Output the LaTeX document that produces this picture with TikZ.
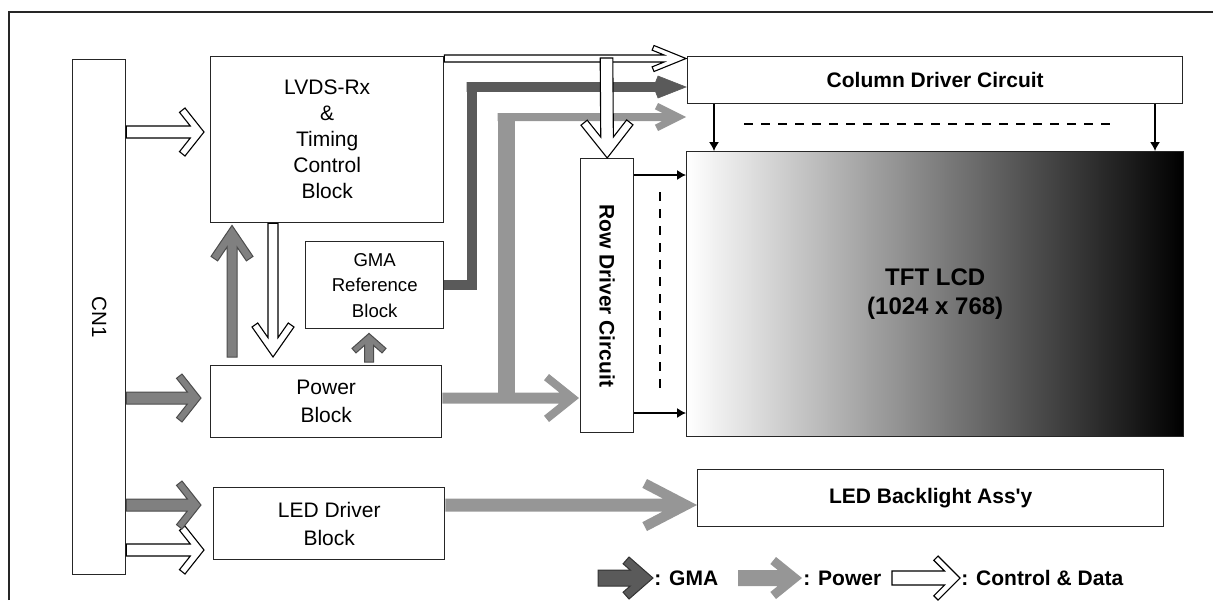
\documentclass[tikz,border=0pt]{standalone}
\usepackage{fontspec}
\setmainfont{Liberation Sans}
\usetikzlibrary{arrows.meta, calc, decorations.markings}
\definecolor{gmagray}{HTML}{5A5A5A}
\definecolor{midgray}{HTML}{808080}
\definecolor{pwrgray}{HTML}{969696}
% block arrow: style, shaft half width, head half width, head length, arm width, from, to
\newcommand{\fatarrow}[7]{%
  \path[decorate, decoration={markings, mark=at position 0 with {%
    \pgfmathsetmacro\faL{\pgfdecoratedpathlength*2}%
    \pgfmathsetmacro\faN{sqrt(#4*#4+#3*#3)}%
    \pgfmathsetmacro\faM{#5*\faN/#3+#4*#2/#3}%
    \pgfmathsetmacro\faX{#4+#5*#3/\faN}%
    \pgfmathsetmacro\faY{#3-#5*#4/\faN}%
    \filldraw[#1] (0,#2) -- (\faL-\faM,#2) -- (\faL-\faX,\faY) -- (\faL-#4,#3)
      -- (\faL,0) -- (\faL-#4,-#3) -- (\faL-\faX,-\faY) -- (\faL-\faM,-#2)
      -- (0,-#2) -- cycle;}}] #6 -- #7;}

\begin{document}
\begin{tikzpicture}[x=0.5pt, y=-0.5pt,
  blk/.style={draw=black!85, line width=0.7pt, inner sep=0pt, align=center,
              anchor=north west, font=\fontsize{10.5}{13}\selectfont},
  bblk/.style={blk, font=\fontsize{10.5}{13}\selectfont\bfseries},
  ctlarr/.style={fill=white, draw=black, line width=0.55pt, line join=miter},
  midarr/.style={fill=midgray, draw=black!70, line width=0.5pt, line join=miter},
  gmaarr/.style={fill=gmagray, draw=gmagray, line width=0.3pt},
  lgmaarr/.style={fill=gmagray, draw=black!80, line width=0.5pt, line join=miter},
  pwrarr/.style={fill=pwrgray, draw=none},
  thinarr/.style={draw=black, line width=0.6pt, -{Latex[length=4.5pt, width=5pt]}},
  dashline/.style={draw=black, line width=0.6pt, dash pattern=on 4.5pt off 4pt},
  lgtext/.style={anchor=west, inner sep=0.5pt, font=\fontsize{10.5}{13}\selectfont\bfseries}]
  \useasboundingbox (0,0) rectangle (1213,600);
  % outer frame
  \draw[black!85, line width=1pt] (9,600) -- (9,12) -- (1213,12);

  % blocks
  \node[blk, minimum width=26.5pt, minimum height=257.5pt] (cn) at (72,59) {};
  \node[rotate=-90, font=\fontsize{10.3}{12}\selectfont] (cnlab) at (cn.center) {CN1};
  \node[blk, minimum width=116.5pt, minimum height=83pt] (lvds) at (210,56)
    {LVDS-Rx\\\&\\Timing\\Control\\Block};
  \node[blk, minimum width=69pt, minimum height=43.5pt,
        font=\fontsize{9.3}{12.7}\selectfont] (gma) at (305,241) {GMA\\Reference\\Block};
  \node[blk, minimum width=115.5pt, minimum height=36pt,
        font=\fontsize{10.5}{14}\selectfont] (pwr) at (210,365) {Power\\Block};
  \node[blk, minimum width=115.5pt, minimum height=36pt,
        font=\fontsize{10.5}{14}\selectfont] (led) at (213,487) {LED Driver\\Block};
  \node[blk, minimum width=26.5pt, minimum height=137pt] (row) at (580,158) {};
  \node[rotate=-90, font=\fontsize{10.5}{13}\selectfont\bfseries] (rowlab) at (row.center)
    {Row Driver Circuit};
  \node[bblk, minimum width=247.5pt, minimum height=23.5pt] (col) at (687,56)
    {Column Driver Circuit};
  \node[bblk, minimum width=248.5pt, minimum height=142.5pt,
        left color=white, middle color=black!35, right color=black,
        font=\fontsize{12}{14.5}\selectfont\bfseries] (tft) at (686,151)
    {TFT LCD\\(1024 x 768)};
  \node[bblk, minimum width=233pt, minimum height=28.5pt] (blu) at (697,469)
    {LED Backlight Ass\textquotesingle y};

  % rows and columns of the connectors
  \coordinate (ctlrow) at (0,58.5);
  \coordinate (in1) at (0,132);
  \coordinate (pwrrow) at (0,398);
  \coordinate (ledrow) at (0,505);
  \coordinate (in4) at (0,550);
  \coordinate (gmaup) at (472,87);
  \coordinate (pwrup) at (506,117);
  \coordinate (rowtop) at (606.5,58);
  \coordinate (upx) at (232,0);
  \coordinate (dnx) at (273,0);
  \coordinate (gupx) at (369,0);
  \coordinate (rA) at (0,175);
  \coordinate (rB) at (0,413);
  \coordinate (cA) at (714,0);
  \coordinate (cB) at (1155,0);

  % CN1 outputs
  \fatarrow{ctlarr}{6}{24}{19}{7}{(cn.east |- in1)}{($(lvds.west |- in1)+(-6,0)$)}
  \fatarrow{midarr}{6}{24}{19}{7}{(cn.east |- pwrrow)}{($(pwr.west |- pwrrow)+(-9,0)$)}
  \fatarrow{ctlarr}{6}{24}{19}{7}{(cn.east |- in4)}{($(led.west |- in4)+(-9,0)$)}
  \fatarrow{midarr}{6}{24}{19}{7}{(cn.east |- ledrow)}{($(led.west |- ledrow)+(-12,0)$)}

  % power block <-> timing control, gma reference
  \fatarrow{midarr}{5}{21}{31}{8}{($(pwr.north -| upx)+(0,-8)$)}{($(lvds.south -| upx)+(0,2)$)}
  \fatarrow{ctlarr}{5}{21}{30}{7}{(lvds.south -| dnx)}{($(pwr.north -| dnx)+(0,-8)$)}
  \fatarrow{midarr}{4.5}{17}{15}{6}{($(pwr.north -| gupx)+(0,-3)$)}{($(gma.south -| gupx)+(0,4)$)}

  % gma to column driver
  \draw[gmagray, line width=5pt, line join=miter] (gma.east) -| (gmaup) -- ++(20,0);
  \fatarrow{gmaarr}{4.5}{11}{28}{7}{($(gmaup)+(-5,0)$)}{($(col.west |- gmaup)+(-1,0)$)}

  % power to drivers
  \fatarrow{pwrarr}{5.5}{24}{30}{8}{(pwr.east |- pwrrow)}{($(row.west |- pwrrow)+(-1,0)$)}
  \draw[pwrgray, line width=8.5pt] (pwrup |- pwrrow) -- ($(pwrup)+(0,-4)$);
  \fatarrow{pwrarr}{4}{14}{28}{7}{($(pwrup)+(-8.5,0)$)}{($(col.west |- pwrup)+(-1,0)$)}
  \fatarrow{pwrarr}{6.5}{26}{50}{10}{(led.east |- ledrow)}{(blu.west |- ledrow)}

  % control & data to drivers
  \fatarrow{ctlarr}{3.5}{13}{32}{5}{(lvds.east |- ctlrow)}{($(col.west |- ctlrow)+(-1,0)$)}
  \fatarrow{ctlarr}{6.3}{26}{33}{8}{(rowtop)}{(row.north)}

  % drivers to panel
  \draw[thinarr] (row.east |- rA) -- (tft.west |- rA);
  \draw[thinarr] (row.east |- rB) -- (tft.west |- rB);
  \draw[thinarr] (col.south -| cA) -- (tft.north -| cA);
  \draw[thinarr] (col.south -| cB) -- (tft.north -| cB);
  \draw[dashline] (744,124) -- (1115,124);
  \draw[dashline] (660,192) -- (660,393);

  % legend
  \node[lgtext] (lgma) at (653,578) {: GMA};
  \node[lgtext] (lpwr) at (802,578) {: Power};
  \node[lgtext] (lctl) at (960,578) {: Control \& Data};
  \fatarrow{lgmaarr}{8}{21}{24}{9}{($(lgma.west)+(-55,0)$)}{(lgma.west)}
  \fatarrow{pwrarr}{8}{21}{26}{9}{($(lpwr.west)+(-64,0)$)}{(lpwr.west)}
  \fatarrow{ctlarr}{7}{22}{22}{6}{($(lctl.west)+(-68,0)$)}{(lctl.west)}
\end{tikzpicture}
\end{document}
